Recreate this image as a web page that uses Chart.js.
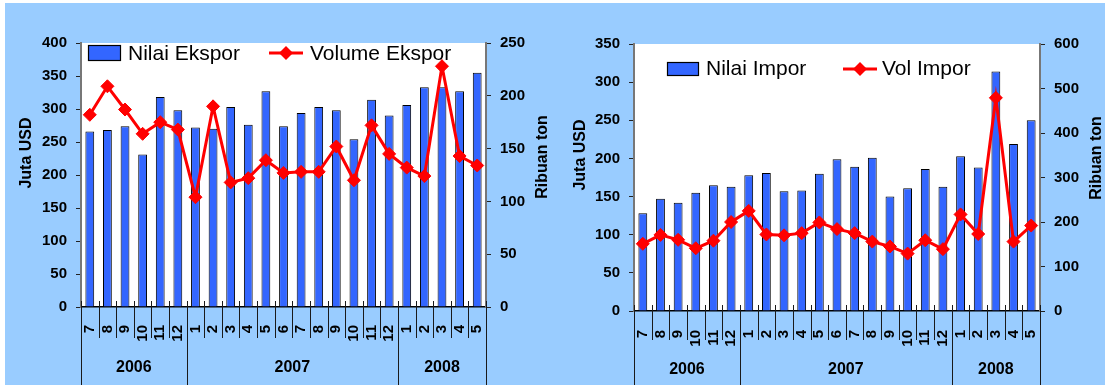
<!DOCTYPE html>
<html>
<head>
<meta charset="utf-8">
<script src="https://cdn.jsdelivr.net/npm/chart.js@4.4.1/dist/chart.umd.min.js"></script>
<style>
  html, body { margin: 0; padding: 0; background: #ffffff; }
  #wrap { position: relative; width: 1109px; height: 385px; overflow: hidden; }
  #bg { position: absolute; left: 5px; top: 3px; right: 4px; bottom: 0; background: #99CCFF; }
  canvas { position: absolute; top: 0; }
  #cEkspor { left: 0; }
  #cImpor { left: 554px; }
</style>
</head>
<body>
<div id="wrap">
  <div id="bg"></div>
  <canvas id="cEkspor" width="554" height="385"></canvas>
  <canvas id="cImpor" width="555" height="385"></canvas>
</div>
<script>
// Months on the category axis, with the year each month belongs to
const months = ['7','8','9','10','11','12','1','2','3','4','5','6','7','8','9','10','11','12','1','2','3','4','5'];
const years = ['2006','2006','2006','2006','2006','2006',
               '2007','2007','2007','2007','2007','2007','2007','2007','2007','2007','2007','2007',
               '2008','2008','2008','2008','2008'];

// Exports: value (million USD) and volume (thousand tons)
const nilaiEkspor  = [266, 268, 274, 231, 318, 298, 272, 270, 303, 276, 327, 274, 294, 303, 298, 254, 314, 290, 306, 333, 333, 327, 355];
const volumeEkspor = [182, 209, 187, 164, 175, 168, 104, 190, 118, 122, 139, 127, 128, 128, 152, 120, 172, 145, 132, 124, 228, 143, 134];

// Imports: value (million USD) and volume (thousand tons)
const nilaiImpor = [128, 147, 142, 155, 165, 163, 178, 181, 157, 158, 180, 199, 189, 201, 150, 161, 186, 163, 203, 188, 314, 219, 250];
const volImpor   = [151, 171, 160, 141, 158, 200, 225, 172, 170, 175, 199, 184, 175, 156, 145, 129, 159, 139, 217, 173, 479, 156, 192];

const titleLeft = 'Juta USD';
const titleRight = 'Ribuan ton';

const BAR_BLUE = '#3366FF';
const RED = '#FF0000';

// Prefer a condensed face for the numbers when one is installed
const NARROW = (() => {
  const c = document.createElement('canvas').getContext('2d');
  c.font = "bold 40px monospace";
  const ref = c.measureText('2006 400').width;
  c.font = "bold 40px 'Liberation Sans Narrow', monospace";
  return c.measureText('2006 400').width !== ref;
})();
const NUM_FAMILY = NARROW ? "'Liberation Sans Narrow', sans-serif" : "'Liberation Sans', Arial, sans-serif";
const NUM_SIZE = NARROW ? 17 : 15;
const TICK_FONT = { family: NUM_FAMILY, size: NUM_SIZE, weight: 'bold' };

function diamond(ctx, x, y, r) {
  ctx.beginPath();
  ctx.moveTo(x, y - r); ctx.lineTo(x + r, y); ctx.lineTo(x, y + r); ctx.lineTo(x - r, y);
  ctx.closePath();
  ctx.fill();
}

// White plot area, category dividers, year groups, axis titles and the inside key
const panelPlugin = {
  id: 'panel',
  beforeDraw(chart) {
    const { ctx, chartArea: a } = chart;
    ctx.save();
    ctx.fillStyle = '#ffffff';
    ctx.fillRect(a.left, a.top, a.right - a.left, a.bottom - a.top);
    ctx.restore();
  },
  afterDraw(chart, args, o) {
    const ctx = chart.ctx, xs = chart.scales.x, a = chart.chartArea;
    const n = months.length;
    const w = (xs.right - xs.left) / n;
    const base = a.bottom;
    ctx.save();

    // dividers between months; long ones at year boundaries
    ctx.strokeStyle = '#1a1a1a';
    ctx.lineWidth = 1;
    for (let k = 0; k <= n; k++) {
      const px = Math.round(xs.getPixelForValue(0) - w / 2 + k * w) + 0.5;
      const edge = k === 0 || k === n || years[k] !== years[k - 1];
      ctx.beginPath();
      ctx.moveTo(px, base - 6);
      ctx.lineTo(px, edge ? chart.height : base + o.tickDrop);
      ctx.stroke();
    }

    // year labels centred under their months
    ctx.fillStyle = '#000';
    ctx.font = 'bold ' + (NUM_SIZE + 1) + 'px ' + NUM_FAMILY;
    ctx.textAlign = 'center';
    ctx.textBaseline = 'middle';
    let s = 0;
    for (let k = 1; k <= n; k++) {
      if (k === n || years[k] !== years[s]) {
        const cx = (xs.getPixelForValue(s) + xs.getPixelForValue(k - 1)) / 2;
        ctx.fillText(years[s], cx, o.yearY);
        s = k;
      }
    }

    // rotated axis titles
    ctx.font = "bold 16px 'Liberation Sans', Arial, sans-serif";
    [[titleLeft, o.titleL], [titleRight, o.titleR]].forEach(([t, p]) => {
      ctx.save();
      ctx.translate(p[0], p[1]);
      ctx.rotate(-Math.PI / 2);
      ctx.fillText(t, 0, 0);
      ctx.restore();
    });

    // key inside the plot
    const ds = chart.data.datasets;
    const k = o.key;
    ctx.font = "21px 'Liberation Sans', Arial, sans-serif";
    ctx.textAlign = 'left';
    ctx.textBaseline = 'alphabetic';
    // bar entry
    ctx.fillStyle = ds[0].backgroundColor;
    ctx.fillRect(k.box[0], k.box[1], k.box[2], k.box[3]);
    ctx.strokeStyle = '#000';
    ctx.lineWidth = 1.2;
    ctx.strokeRect(k.box[0] + 0.5, k.box[1] + 0.5, k.box[2] - 1, k.box[3] - 1);
    ctx.fillStyle = '#000';
    ctx.fillText(ds[0].label, k.text0[0], k.text0[1]);
    // line entry
    ctx.strokeStyle = ds[1].borderColor;
    ctx.lineWidth = 3;
    ctx.beginPath();
    ctx.moveTo(k.line[0], k.line[2]);
    ctx.lineTo(k.line[1], k.line[2]);
    ctx.stroke();
    ctx.fillStyle = ds[1].borderColor;
    diamond(ctx, (k.line[0] + k.line[1]) / 2, k.line[2], 7);
    ctx.fillStyle = '#000';
    ctx.fillText(ds[1].label, k.text1[0], k.text1[1]);

    ctx.restore();
  }
};

function makeChart(id, cfg) {
  return new Chart(document.getElementById(id), {
    data: {
      labels: months,
      datasets: [
        {
          type: 'bar', label: cfg.barLabel, data: cfg.bars, yAxisID: 'y', order: 1,
          backgroundColor: BAR_BLUE, borderColor: '#000000', borderWidth: 1,
          barPercentage: 0.5, categoryPercentage: 1.0
        },
        {
          type: 'line', label: cfg.lineLabel, data: cfg.line, yAxisID: 'y1', order: 0,
          borderColor: RED, borderWidth: 3, tension: 0,
          pointStyle: 'rectRot', pointRadius: 6.5,
          pointBackgroundColor: RED, pointBorderColor: RED, pointBorderWidth: 1
        }
      ]
    },
    options: {
      responsive: false,
      animation: false,
      events: [],
      layout: { padding: { top: cfg.top, left: 0, right: 0, bottom: 0 } },
      plugins: {
        legend: { display: false },
        tooltip: { enabled: false },
        panel: cfg.panel
      },
      scales: {
        x: {
          offset: true,
          grid: { display: false },
          border: { display: true, color: '#000000', width: 1.5 },
          ticks: {
            font: TICK_FONT, color: '#000', autoSkip: false,
            minRotation: 90, maxRotation: 90, padding: cfg.labelPad
          },
          afterFit: s => { s.height = cfg.xHeight; }
        },
        y: {
          position: 'left', min: 0, max: cfg.yMax, 
          ticks: { stepSize: 50, font: TICK_FONT, color: '#000', padding: 9 },
          grid: { drawOnChartArea: false, drawTicks: true, tickLength: 5, color: '#222', lineWidth: 1 },
          border: { display: true, color: '#777777', width: 2 },
          afterFit: s => { s.width = cfg.yWidth; }
        },
        y1: {
          position: 'right', min: 0, max: cfg.y1Max,
          ticks: { stepSize: cfg.y1Step, font: TICK_FONT, color: '#000', padding: 9 },
          grid: { drawOnChartArea: false, drawTicks: true, tickLength: 5, color: '#222', lineWidth: 1 },
          border: { display: true, color: '#777777', width: 2 },
          afterFit: s => { s.width = cfg.y1Width; }
        }
      }
    },
    plugins: [panelPlugin]
  });
}

makeChart('cEkspor', {
  barLabel: 'Nilai Ekspor', lineLabel: 'Volume Ekspor',
  bars: nilaiEkspor, line: volumeEkspor,
  yMax: 400, y1Max: 250, y1Step: 50,
  top: 43, xHeight: 78, yWidth: 81, y1Width: 68, labelPad: 10,
  panel: {
    tickDrop: 31, yearY: 368,
    titleL: [27, 153], titleR: [543, 157],
    key: { box: [88, 45, 33, 16], text0: [128, 60], line: [269, 303, 53], text1: [310, 60] }
  }
});

makeChart('cImpor', {
  barLabel: 'Nilai Impor', lineLabel: 'Vol Impor',
  bars: nilaiImpor, line: volImpor,
  yMax: 350, y1Max: 600, y1Step: 100,
  top: 44, xHeight: 74, yWidth: 80, y1Width: 69, labelPad: 11,
  panel: {
    tickDrop: 29, yearY: 370,
    titleL: [27, 155], titleR: [543, 158],
    key: { box: [113, 62, 32, 14], text0: [152, 75], line: [289, 323, 69], text1: [328, 75] }
  }
});
</script>
</body>
</html>
